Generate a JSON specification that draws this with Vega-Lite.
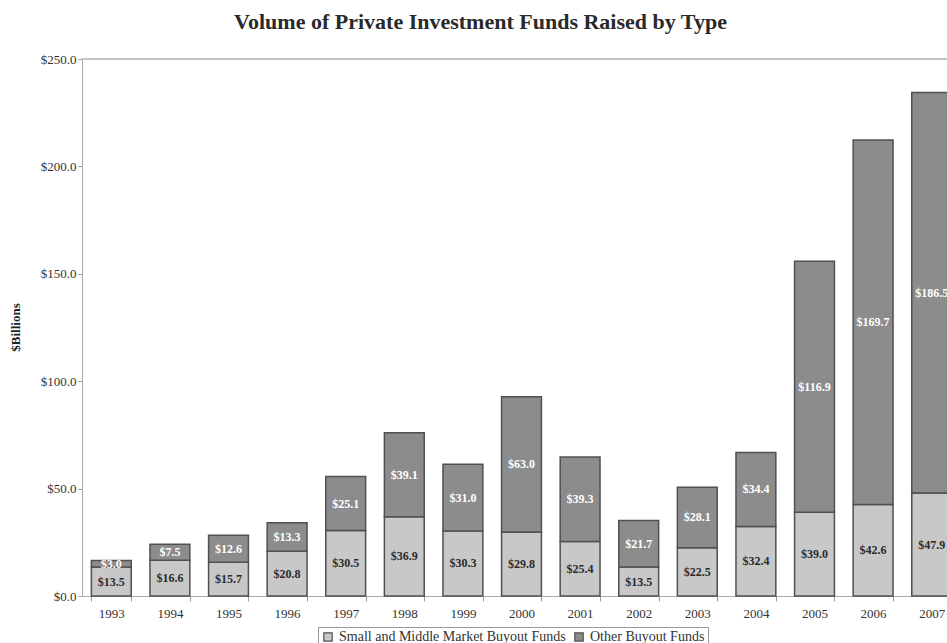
{
  "$schema": "https://vega.github.io/schema/vega-lite/v6.json",
  "autosize": {"type": "none"},
  "width": 865,
  "height": 537,
  "padding": {"left": 82, "top": 59, "right": 0, "bottom": 47},
  "background": "white",
  "config": {"view": {"stroke": null}, "font": "Liberation Serif"},
  "title": {"text": "Volume of Private Investment Funds Raised by Type", "font": "Liberation Serif", "fontSize": 22, "fontWeight": "bold", "color": "#2a2a2a", "anchor": "middle", "dx": -34, "offset": 19},
  "data": {"values": [
    {"year": "1993", "type": "Small and Middle Market Buyout Funds", "value": 13.5},
    {"year": "1993", "type": "Other Buyout Funds", "value": 3.0},
    {"year": "1994", "type": "Small and Middle Market Buyout Funds", "value": 16.6},
    {"year": "1994", "type": "Other Buyout Funds", "value": 7.5},
    {"year": "1995", "type": "Small and Middle Market Buyout Funds", "value": 15.7},
    {"year": "1995", "type": "Other Buyout Funds", "value": 12.6},
    {"year": "1996", "type": "Small and Middle Market Buyout Funds", "value": 20.8},
    {"year": "1996", "type": "Other Buyout Funds", "value": 13.3},
    {"year": "1997", "type": "Small and Middle Market Buyout Funds", "value": 30.5},
    {"year": "1997", "type": "Other Buyout Funds", "value": 25.1},
    {"year": "1998", "type": "Small and Middle Market Buyout Funds", "value": 36.9},
    {"year": "1998", "type": "Other Buyout Funds", "value": 39.1},
    {"year": "1999", "type": "Small and Middle Market Buyout Funds", "value": 30.3},
    {"year": "1999", "type": "Other Buyout Funds", "value": 31.0},
    {"year": "2000", "type": "Small and Middle Market Buyout Funds", "value": 29.8},
    {"year": "2000", "type": "Other Buyout Funds", "value": 63.0},
    {"year": "2001", "type": "Small and Middle Market Buyout Funds", "value": 25.4},
    {"year": "2001", "type": "Other Buyout Funds", "value": 39.3},
    {"year": "2002", "type": "Small and Middle Market Buyout Funds", "value": 13.5},
    {"year": "2002", "type": "Other Buyout Funds", "value": 21.7},
    {"year": "2003", "type": "Small and Middle Market Buyout Funds", "value": 22.5},
    {"year": "2003", "type": "Other Buyout Funds", "value": 28.1},
    {"year": "2004", "type": "Small and Middle Market Buyout Funds", "value": 32.4},
    {"year": "2004", "type": "Other Buyout Funds", "value": 34.4},
    {"year": "2005", "type": "Small and Middle Market Buyout Funds", "value": 39.0},
    {"year": "2005", "type": "Other Buyout Funds", "value": 116.9},
    {"year": "2006", "type": "Small and Middle Market Buyout Funds", "value": 42.6},
    {"year": "2006", "type": "Other Buyout Funds", "value": 169.7},
    {"year": "2007", "type": "Small and Middle Market Buyout Funds", "value": 47.9},
    {"year": "2007", "type": "Other Buyout Funds", "value": 186.5}
  ]},
  "layer": [
    {
      "mark": {"type": "rule", "color": "#c4c4c4", "strokeWidth": 1},
      "encoding": {"y": {"datum": 250, "type": "quantitative", "scale": {"domain": [0, 250], "nice": false}}}
    },
    {
      "transform": [{"stack": "value", "groupby": ["year"], "sort": [{"field": "type", "order": "descending"}], "as": ["y0", "y1"]}],
      "mark": {"type": "bar", "stroke": "#505050", "strokeWidth": 1.5},
      "encoding": {
        "x": {"field": "year", "type": "ordinal", "scale": {"range": [0, 879], "paddingInner": 0.32, "paddingOuter": 0.16},
              "axis": {"title": null, "labelAngle": 0, "tickBand": "extent", "tickSize": 5, "tickColor": "#999", "domainColor": "#aaa", "labelFont": "Liberation Serif", "labelFontSize": 13, "labelColor": "#333", "labelPadding": 6}},
        "y": {"field": "y1", "type": "quantitative", "scale": {"domain": [0, 250], "nice": false},
              "axis": {"title": "$Billions", "values": [0, 50, 100, 150, 200, 250], "format": "$.1f", "grid": false, "tickSize": 4, "tickColor": "#999", "domainColor": "#aaa", "labelFont": "Liberation Serif", "labelFontSize": 13, "labelColor": "#333", "labelPadding": 2, "titleFont": "Liberation Serif", "titleFontSize": 13, "titleFontWeight": "bold", "titleColor": "#222", "titleX": -67, "titleY": 268, "titleBaseline": "middle", "titleAlign": "center"}},
        "y2": {"field": "y0"},
        "color": {"field": "type", "type": "nominal",
                  "scale": {"domain": ["Small and Middle Market Buyout Funds", "Other Buyout Funds"], "range": ["#c8c8c8", "#8c8c8c"]},
                  "legend": {"title": null, "orient": "none", "legendX": 236, "legendY": 568, "direction": "horizontal", "strokeColor": "#999", "padding": 3, "symbolType": "square", "symbolSize": 70, "symbolStrokeColor": "#505050", "symbolStrokeWidth": 1.2, "labelFont": "Liberation Serif", "labelFontSize": 14, "labelColor": "#333", "labelLimit": 0, "columnPadding": 6, "symbolOpacity": 1}}
      }
    },
    {
      "transform": [
        {"stack": "value", "groupby": ["year"], "sort": [{"field": "type", "order": "descending"}], "as": ["y0", "y1"]},
        {"fold": ["y0", "y1"], "as": ["k", "pos"]}
      ],
      "mark": {"type": "text", "font": "Liberation Serif", "fontSize": 12, "fontWeight": "bold", "baseline": "middle", "align": "center"},
      "encoding": {
        "x": {"field": "year", "type": "ordinal"},
        "y": {"aggregate": "mean", "field": "pos", "type": "quantitative", "stack": null, "scale": {"domain": [0, 250], "nice": false}},
        "detail": {"field": "type"},
        "text": {"field": "value", "type": "quantitative", "format": "$.1f"},
        "color": {"condition": {"test": "datum.type == 'Other Buyout Funds'", "value": "white"}, "value": "#2a2a2a"}
      }
    }
  ]
}
